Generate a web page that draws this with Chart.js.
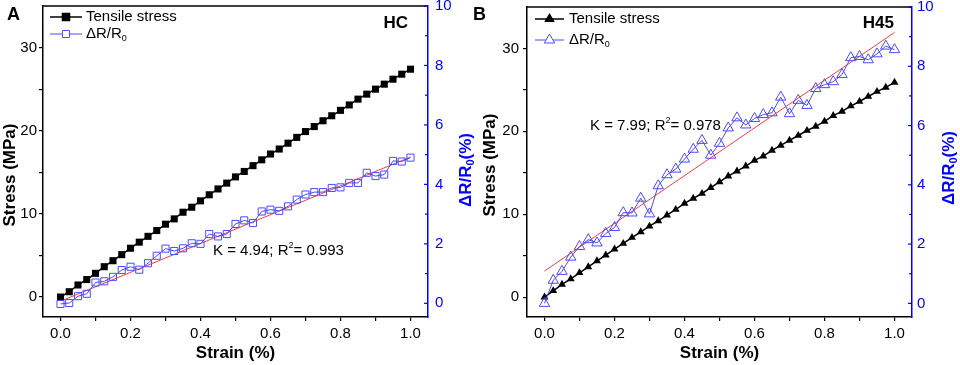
<!DOCTYPE html>
<html>
<head>
<meta charset="utf-8">
<script src="https://cdn.jsdelivr.net/npm/chart.js@4.4.0/dist/chart.umd.min.js"></script>
<style>
  body { margin: 0; background: #fff; }
  #wrap { position: relative; width: 960px; height: 365px; overflow: hidden; }
  canvas { position: absolute; top: 0; }
  #chartA { left: 0; }
  #chartB { left: 465px; }
</style>
</head>
<body>
<div id="wrap">
  <canvas id="chartA" width="480" height="365"></canvas>
  <canvas id="chartB" width="495" height="365"></canvas>
</div>
<script>
// strain (%) for every sample, both panels
const strain = [0, 0.025, 0.05, 0.075, 0.1, 0.125, 0.15, 0.175, 0.2, 0.225, 0.25, 0.275, 0.3, 0.325, 0.35, 0.375, 0.4,
  0.425, 0.45, 0.475, 0.5, 0.525, 0.55, 0.575, 0.6, 0.625, 0.65, 0.675, 0.7, 0.725, 0.75, 0.775, 0.8, 0.825, 0.85,
  0.875, 0.9, 0.925, 0.95, 0.975, 1.0];

// panel A (HC)
const stressA = [0, 0.64, 1.45, 2.1, 2.85, 3.65, 4.37, 5.1, 5.87, 6.6, 7.3, 8.0, 8.76, 9.4, 10.2, 10.8, 11.57, 12.3,
  13.0, 13.7, 14.45, 15.1, 15.8, 16.5, 17.2, 17.8, 18.5, 19.2, 19.9, 20.5, 21.2, 21.8, 22.45, 23.1, 23.8, 24.4, 25.0,
  25.6, 26.2, 26.8, 27.4];
const resA = [-0.02, 0.01, 0.24, 0.32, 0.7, 0.74, 0.89, 1.12, 1.23, 1.13, 1.35, 1.6, 1.84, 1.76, 1.85, 2.02, 2.0,
  2.33, 2.25, 2.33, 2.67, 2.79, 2.7, 3.09, 3.15, 3.11, 3.26, 3.49, 3.66, 3.74, 3.74, 3.88, 3.9, 4.05, 4.05, 4.39,
  4.28, 4.33, 4.79, 4.77, 4.9];
const fitAx = [0.01, 1.0];
const fitAy = [0.12, 4.92];

// panel B (H45)
const stressB = [0, 0.76, 1.53, 2.2, 2.93, 3.65, 4.37, 5.06, 5.78, 6.47, 7.19, 7.87, 8.55, 9.2, 9.88, 10.57, 11.3,
  11.9, 12.5, 13.2, 13.9, 14.6, 15.2, 15.8, 16.5, 17.0, 17.7, 18.3, 18.9, 19.5, 20.1, 20.6, 21.2, 21.9, 22.4, 23.05,
  23.6, 24.2, 24.8, 25.3, 25.9];
const resB = [0.0, 0.78, 1.08, 1.56, 1.92, 2.15, 2.04, 2.36, 2.56, 3.06, 3.05, 3.55, 3.02, 3.97, 4.34, 4.53, 4.87,
  5.2, 5.5, 5.0, 5.4, 5.92, 6.26, 6.02, 6.24, 6.37, 6.43, 6.96, 6.4, 6.85, 6.68, 7.25, 7.38, 7.48, 7.72, 8.29, 8.33,
  8.22, 8.42, 8.68, 8.56];
const fitBx = [0, 1.0];
const fitBy = [1.09, 9.14];

// axes
const xTicks = [0, 0.1, 0.2, 0.3, 0.4, 0.5, 0.6, 0.7, 0.8, 0.9, 1.0];
const stressTicks = [0, 5, 10, 15, 20, 25, 30];
const resTicks = [0, 1, 2, 3, 4, 5, 6, 7, 8, 9, 10];

const FONT = 'Arial, "Liberation Sans", sans-serif';
const AXIS_BLUE = '#0000ff';
const SERIES_BLUE = '#4b4bff';

function pts(xs, ys) {
  return xs.map((x, i) => ({ x: x, y: ys[i] }));
}

// draws text made of pieces, some of them sub/superscript; returns width
function richText(c, parts, x, y, size, bold, measureOnly) {
  let w = 0;
  parts.forEach(p => {
    const s = p.sub || p.sup ? Math.round(size * 0.62) : size;
    c.font = (bold ? 'bold ' : '') + s + 'px ' + FONT;
    const dy = p.sub ? size * 0.28 : p.sup ? -size * 0.38 : 0;
    if (!measureOnly) c.fillText(p.t, x + w, y + dy);
    w += c.measureText(p.t).width;
  });
  return w;
}

function makePanel(cfg) {
  const decor = {
    id: 'decor',
    afterDraw(chart) {
      const c = chart.ctx, a = chart.chartArea, y1 = chart.scales.y1;
      c.save();
      // top frame line
      c.strokeStyle = '#000';
      c.lineWidth = 1.5;
      c.beginPath();
      c.moveTo(a.left - 0.75, a.top);
      c.lineTo(a.right, a.top);
      c.stroke();
      // right axis ticks point inward
      c.strokeStyle = AXIS_BLUE;
      c.lineWidth = 1.2;
      resTicks.forEach(v => {
        const py = y1.getPixelForValue(v);
        c.beginPath();
        c.moveTo(a.right, py);
        c.lineTo(a.right - (v % 2 === 0 ? 4 : 3), py);
        c.stroke();
      });

      c.textBaseline = 'middle';
      c.textAlign = 'left';
      c.fillStyle = '#000';
      // panel letter and tag
      c.font = 'bold 18px ' + FONT;
      c.fillText(cfg.letter, cfg.letterX, 15);
      c.font = 'bold 17px ' + FONT;
      c.textAlign = 'right';
      c.fillText(cfg.tag, cfg.tagRight, 23);
      c.textAlign = 'left';

      // legend
      const L = cfg.legend;
      c.lineWidth = 1.5;
      c.strokeStyle = '#000';
      c.beginPath(); c.moveTo(L.x0, L.y1); c.lineTo(L.x1, L.y1); c.stroke();
      Chart.helpers.drawPoint(c, { pointStyle: cfg.style, radius: cfg.blackR, borderWidth: 1 },
        (L.x0 + L.x1) / 2, L.y1);
      c.fillStyle = '#000';
      c.fill();
      c.strokeStyle = SERIES_BLUE;
      c.lineWidth = 1;
      c.beginPath(); c.moveTo(L.x0, L.y2); c.lineTo(L.x1, L.y2); c.stroke();
      c.fillStyle = '#fff';
      Chart.helpers.drawPoint(c, { pointStyle: cfg.style, radius: cfg.blueR, borderWidth: 1 },
        (L.x0 + L.x1) / 2, L.y2);
      c.fillStyle = '#000';
      c.font = '15px ' + FONT;
      c.fillText('Tensile stress', L.tx, L.y1);
      richText(c, [{ t: '\u0394R/R' }, { t: '0', sub: true }], L.tx, L.y2, 15, false);

      // fit annotation
      richText(c, [{ t: cfg.kText }, { t: 'R' }, { t: '2', sup: true }, { t: '= ' + cfg.r2 }],
        cfg.kX, cfg.kY, 15, false);

      // axis titles
      c.save();
      c.translate(cfg.leftTitleX, cfg.leftTitleY);
      c.rotate(-Math.PI / 2);
      c.textAlign = 'center';
      c.font = 'bold 17px ' + FONT;
      c.fillText('Stress (MPa)', 0, 0);
      c.restore();

      c.save();
      c.translate(cfg.rightTitleX, cfg.rightTitleY);
      c.rotate(-Math.PI / 2);
      c.fillStyle = AXIS_BLUE;
      const parts = [{ t: '\u0394R/R' }, { t: '0', sub: true }, { t: '(%)' }];
      const w = richText(c, parts, 0, 0, 17, true, true);
      richText(c, parts, -w / 2, 0, 17, true, false);
      c.restore();

      c.font = 'bold 17px ' + FONT;
      c.textAlign = 'center';
      c.fillText('Strain (%)', (a.left + a.right) / 2, 353);
      c.restore();
    }
  };

  const fixed = (w, h) => scale => {
    if (w !== undefined) scale.width = w;
    if (h !== undefined) scale.height = h;
    scale.paddingTop = 0; scale.paddingBottom = 0;
    scale.paddingLeft = 0; scale.paddingRight = 0;
  };

  return new Chart(document.getElementById(cfg.id), {
    type: 'line',
    data: {
      datasets: [
        {
          data: pts(strain, cfg.res),
          yAxisID: 'y1',
          borderColor: SERIES_BLUE,
          borderWidth: 1,
          pointStyle: cfg.style,
          pointRadius: cfg.blueR,
          pointBorderWidth: 1,
          pointBorderColor: SERIES_BLUE,
          pointBackgroundColor: 'rgba(255,255,255,0)',
          tension: 0
        },
        {
          data: pts(cfg.fitX, cfg.fitY),
          yAxisID: 'y1',
          borderColor: '#ff3b3b',
          borderWidth: 1,
          pointRadius: 0,
          tension: 0
        },
        {
          data: pts(strain, cfg.stress),
          yAxisID: 'y',
          borderColor: '#000',
          borderWidth: 1.5,
          pointStyle: cfg.style,
          pointRadius: cfg.blackR,
          pointBorderWidth: 0,
          pointBackgroundColor: '#000',
          tension: 0
        }
      ]
    },
    options: {
      responsive: false,
      animation: false,
      devicePixelRatio: 1,
      events: [],
      layout: { padding: { top: 6, left: 0, right: 0, bottom: 0 } },
      plugins: { legend: { display: false }, tooltip: { enabled: false } },
      scales: {
        x: {
          type: 'linear',
          min: -0.05,
          max: 1.05,
          afterBuildTicks: s => { s.ticks = xTicks.map(v => ({ value: v })); },
          afterFit: fixed(undefined, 48),
          border: { color: '#000', width: 1.5 },
          grid: { drawOnChartArea: false, drawTicks: true, tickLength: 4, color: '#000', lineWidth: 1.2 },
          ticks: {
            autoSkip: false,
            maxRotation: 0,
            padding: 4,
            color: '#000',
            font: { family: FONT, size: 15 },
            callback: v => (Math.round(v * 10) % 2 === 0 ? v.toFixed(1) : '')
          }
        },
        y: {
          position: 'left',
          min: -2.4,
          max: 35,
          afterBuildTicks: s => { s.ticks = stressTicks.map(v => ({ value: v })); },
          afterFit: fixed(cfg.leftW),
          border: { color: '#000', width: 1.5 },
          grid: { drawOnChartArea: false, drawTicks: true, tickLength: 4, color: '#000', lineWidth: 1.2 },
          ticks: {
            padding: cfg.leftPad,
            color: '#000',
            font: { family: FONT, size: 15 },
            callback: v => (v % 10 === 0 ? String(v) : '')
          }
        },
        y1: {
          position: 'right',
          min: -0.46,
          max: 10,
          afterBuildTicks: s => { s.ticks = resTicks.map(v => ({ value: v })); },
          afterFit: fixed(cfg.rightW),
          border: { color: AXIS_BLUE, width: 1.5 },
          grid: { display: false, drawTicks: false },
          ticks: {
            padding: cfg.rightPad,
            color: AXIS_BLUE,
            font: { family: FONT, size: 15 },
            callback: v => (v % 2 === 0 ? String(v) : '')
          }
        }
      }
    },
    plugins: [decor]
  });
}

makePanel({
  id: 'chartA', letter: 'A', letterX: 7, tag: 'HC', tagRight: 408,
  stress: stressA, res: resA, fitX: fitAx, fitY: fitAy,
  style: 'rect', blackR: 5, blueR: 5,
  leftW: 43, rightW: 52, leftPad: 2, rightPad: 7,
  legend: { x0: 50, x1: 82, y1: 17, y2: 34, tx: 86 },
  kText: 'K = 4.94; ', r2: '0.993', kX: 213, kY: 251,
  leftTitleX: 10, leftTitleY: 175, rightTitleX: 466, rightTitleY: 170
});

makePanel({
  id: 'chartB', letter: 'B', letterX: 8, tag: 'H45', tagRight: 429,
  stress: stressB, res: resB, fitX: fitBx, fitY: fitBy,
  style: 'triangle', blackR: 4.6, blueR: 6,
  leftW: 62, rightW: 48, leftPad: 4, rightPad: 5,
  legend: { x0: 70, x1: 99, y1: 19, y2: 40, tx: 104 },
  kText: 'K = 7.99; ', r2: '0.978', kX: 125, kY: 126,
  leftTitleX: 25, leftTitleY: 165, rightTitleX: 484, rightTitleY: 168
});
</script>
</body>
</html>
